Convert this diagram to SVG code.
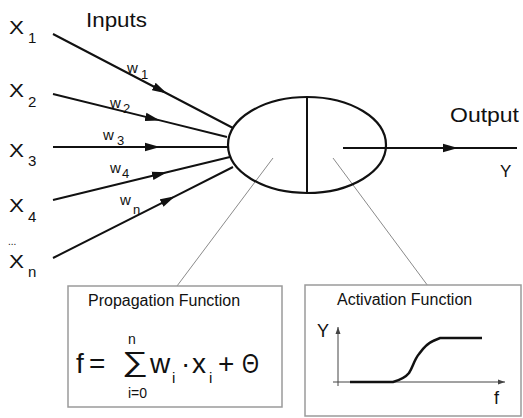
<svg xmlns="http://www.w3.org/2000/svg" width="523" height="418" viewBox="0 0 523 418">
<style>
  text { font-family: "Liberation Sans", Arial, sans-serif; fill: #111; }
  .lbl { font-size: 16px; }
  .xl { font-size: 18px; }
  .sub { font-size: 13px; }
  .xs { font-size: 15px; }
  .w { font-size: 15px; }
  .big { font-size: 28px; }
  .edge { stroke: #111; stroke-width: 2; fill: none; }
  .thin { stroke: #8a8a8a; stroke-width: 1; fill: none; }
  .box { fill: #fff; stroke: #9a9a9a; stroke-width: 1.5; }
</style>
<defs>
  <marker id="arr" markerUnits="userSpaceOnUse" markerWidth="16" markerHeight="10" refX="15" refY="5" orient="auto">
    <path d="M0,0.8 L15,5 L0,9.2 Z" fill="#111"/>
  </marker>
  <marker id="ax" markerUnits="userSpaceOnUse" markerWidth="8" markerHeight="6" refX="7" refY="3" orient="auto">
    <path d="M0,0.5 L7,3 L0,5.5 Z" fill="#444"/>
  </marker>
</defs>
<rect width="523" height="418" fill="#fff"/>

<g id="title-inputs"><text x="86" y="27" style="font-size:21px" textLength="61" lengthAdjust="spacingAndGlyphs">Inputs</text></g>

<g id="x1"><text x="9" y="34" class="xl" textLength="15" lengthAdjust="spacingAndGlyphs">X</text><text x="28" y="43" class="xs">1</text></g>
<g id="x2"><text x="9" y="97" class="xl" textLength="15" lengthAdjust="spacingAndGlyphs">X</text><text x="28" y="107" class="xs">2</text></g>
<g id="x3"><text x="9" y="157" class="xl" textLength="15" lengthAdjust="spacingAndGlyphs">X</text><text x="28" y="166" class="xs">3</text></g>
<g id="x4"><text x="9" y="212" class="xl" textLength="15" lengthAdjust="spacingAndGlyphs">X</text><text x="28" y="222" class="xs">4</text></g>
<g id="xn"><text x="8" y="245" style="font-size:10px">...</text><text x="9" y="268" class="xl" textLength="15" lengthAdjust="spacingAndGlyphs">X</text><text x="28" y="277" class="xs">n</text></g>

<g id="connectors">
  <polyline class="edge" points="53,34 167,93.5 233,128" marker-mid="url(#arr)"/>
  <polyline class="edge" points="53,94 160,120.4 227,137" marker-mid="url(#arr)"/>
  <polyline class="edge" points="53,147 160,147 228,147" marker-mid="url(#arr)"/>
  <polyline class="edge" points="53,200 167,172.3 230,157" marker-mid="url(#arr)"/>
  <polyline class="edge" points="53,258 175,196.3 233,167" marker-mid="url(#arr)"/>
  <polyline class="edge" points="343,148 458,148 517,148" marker-mid="url(#arr)"/>
  <line class="thin" x1="273" y1="158" x2="177" y2="286"/>
  <line class="thin" x1="333" y1="158" x2="428" y2="286"/>
</g>

<g id="weights">
  <text x="127" y="73" class="w">w</text><text x="141" y="79" class="sub">1</text>
  <text x="110" y="108" class="w">w</text><text x="123" y="113" class="sub">2</text>
  <text x="103" y="140" class="w">w</text><text x="117" y="145" class="sub">3</text>
  <text x="110" y="173" class="w">w</text><text x="122" y="178" class="sub">4</text>
  <text x="120" y="205" class="w">w</text><text x="133" y="214" class="sub">n</text>
</g>

<g id="neuron">
  <ellipse cx="307" cy="145" rx="79" ry="48" fill="none" stroke="#111" stroke-width="2.2"/>
  <line x1="307" y1="97" x2="307" y2="193" stroke="#111" stroke-width="2"/>
</g>

<g id="output">
  <text x="450" y="122" style="font-size:21px" textLength="69" lengthAdjust="spacingAndGlyphs">Output</text>
  <text x="500" y="177" style="font-size:17px">Y</text>
</g>

<g id="propagation">
  <rect class="box" x="68" y="286" width="214" height="121"/>
  <text x="88" y="306" class="lbl">Propagation Function</text>
  <text x="76" y="373" class="big">f</text>
  <text x="89" y="373" class="big">=</text>
  <text x="128" y="344" style="font-size:14px">n</text>
  <text x="122" y="371" style="font-size:28px" textLength="26" lengthAdjust="spacingAndGlyphs">∑</text>
  <text x="128" y="398" style="font-size:14px">i=0</text>
  <text x="150" y="373" class="big">w</text>
  <text x="172" y="383" class="w">i</text>
  <text x="181" y="373" class="big">·</text>
  <text x="192" y="373" class="big">x</text>
  <text x="209" y="383" class="w">i</text>
  <text x="218" y="373" class="big">+</text>
  <text x="242" y="373" style="font-size:27px" textLength="17" lengthAdjust="spacingAndGlyphs">Θ</text>
</g>

<g id="activation">
  <rect class="box" x="305" y="285" width="216" height="131"/>
  <text x="337" y="305" class="lbl">Activation Function</text>
  <text x="317" y="337" style="font-size:18px">Y</text>
  <line x1="338" y1="386" x2="338" y2="327" stroke="#444" stroke-width="1" marker-end="url(#ax)"/>
  <line x1="333" y1="382" x2="505" y2="382" stroke="#444" stroke-width="1" marker-end="url(#ax)"/>
  <path d="M350,382 L393,382 C400,380 405,378 409,373 C413,367 414,360 419,354 C424,347 428,343 433,341 L440,338 L482,338" fill="none" stroke="#111" stroke-width="2.5"/>
  <text x="494" y="404" style="font-size:18px">f</text>
</g>
</svg>
